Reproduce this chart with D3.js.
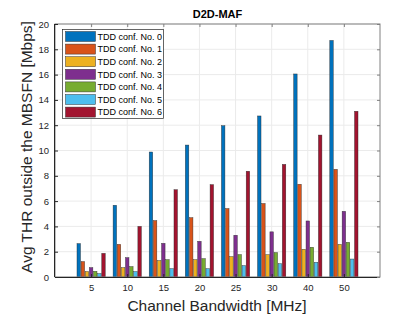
<!DOCTYPE html>
<html><head><meta charset="utf-8">
<script src="https://cdn.jsdelivr.net/npm/d3@7"></script>
<style>body{margin:0;background:#fff}svg{display:block;font-family:"Liberation Sans",Arial,sans-serif}</style>
</head><body>
<svg id="c" width="420" height="315"></svg>
<script>
const categories = ["5","10","15","20","25","30","40","50"];
const seriesNames = ["TDD conf. No. 0","TDD conf. No. 1","TDD conf. No. 2","TDD conf. No. 3","TDD conf. No. 4","TDD conf. No. 5","TDD conf. No. 6"];
const conf0 = [2.64, 5.67, 9.88, 10.43, 11.96, 12.73, 16.05, 18.7];
const conf1 = [1.22, 2.58, 4.46, 4.69, 5.41, 5.81, 7.33, 8.51];
const conf2 = [0.43, 0.74, 1.30, 1.37, 1.61, 1.77, 2.19, 2.58];
const conf3 = [0.74, 1.53, 2.66, 2.82, 3.30, 3.57, 4.43, 5.19];
const conf4 = [0.45, 0.82, 1.37, 1.45, 1.77, 1.93, 2.35, 2.74];
const conf5 = [0.27, 0.43, 0.66, 0.66, 0.90, 1.05, 1.16, 1.42];
const conf6 = [1.87, 4.00, 6.90, 7.30, 8.36, 8.90, 11.22, 13.1];
const yTicks = [0,2,4,6,8,10,12,14,16,18,20];
const colors = ["#0072BD","#D95319","#EDB120","#7E2F8E","#77AC30","#4DBEEE","#A2142F"];
const series = [conf0,conf1,conf2,conf3,conf4,conf5,conf6];

const svg = d3.select("#c");
const L=55, R=380, T=24, B=277;
const x = d3.scaleLinear().domain([0,9]).range([L,R]);
const y = d3.scaleLinear().domain([0,20]).range([B,T]);
const axCol = "#262626";

// grid
const g = svg.append("g");
g.selectAll("line.gy").data(yTicks).join("line")
  .attr("x1",L).attr("x2",R).attr("y1",d=>y(d)).attr("y2",d=>y(d))
  .attr("stroke","#ebebeb").attr("stroke-width",1);
g.selectAll("line.gx").data(categories).join("line")
  .attr("y1",T).attr("y2",B).attr("x1",(d,i)=>x(i+1)).attr("x2",(d,i)=>x(i+1))
  .attr("stroke","#ebebeb").attr("stroke-width",1);

// bars
const nS = series.length;
const groupW = 0.8;
const slot = groupW / nS;
series.forEach((vals,s)=>{
  svg.append("g").selectAll("rect").data(vals).join("rect")
    .attr("x",(d,i)=>x(i+1 - groupW/2 + s*slot + slot*0.08))
    .attr("width", x(slot*0.84)-x(0))
    .attr("y",d=>y(d))
    .attr("height",d=>y(0)-y(d))
    .attr("fill",colors[s])
    .attr("stroke","#222").attr("stroke-width",0.5).attr("stroke-opacity",0.8);
});

// axes box
svg.append("rect").attr("x",L).attr("y",T).attr("width",R-L).attr("height",B-T)
  .attr("fill","none").attr("stroke","#808080").attr("stroke-width",1);
svg.append("line").attr("x1",L).attr("x2",R).attr("y1",B+0.5).attr("y2",B+0.5).attr("stroke",axCol);
svg.append("line").attr("x1",L-0.5).attr("x2",L-0.5).attr("y1",T).attr("y2",B).attr("stroke",axCol);

const yAxis = d3.axisLeft(y).tickValues(yTicks).tickSize(-3).tickPadding(6);
const ya = svg.append("g").attr("transform",`translate(${L},0)`).call(yAxis);
ya.select(".domain").remove();
ya.selectAll("text").attr("font-size",9.5).attr("fill",axCol).attr("font-family","Liberation Sans, Arial, sans-serif");
ya.selectAll("line").attr("stroke",axCol);
const yAxisR = d3.axisRight(y).tickValues(yTicks).tickSize(-3).tickFormat("");
const yr = svg.append("g").attr("transform",`translate(${R},0)`).call(yAxisR);
yr.select(".domain").remove(); yr.selectAll("line").attr("stroke","#808080");

const xAxis = d3.axisBottom(x).tickValues(d3.range(1,9)).tickFormat(d=>categories[d-1]).tickSize(-3).tickPadding(7);
const xa = svg.append("g").attr("transform",`translate(0,${B})`).call(xAxis);
xa.select(".domain").remove();
xa.selectAll("text").attr("font-size",9.5).attr("fill",axCol).attr("font-family","Liberation Sans, Arial, sans-serif");
xa.selectAll("line").attr("stroke",axCol);
const xAxisT = d3.axisTop(x).tickValues(d3.range(1,9)).tickSize(-3).tickFormat("");
const xt = svg.append("g").attr("transform",`translate(0,${T})`).call(xAxisT);
xt.select(".domain").remove(); xt.selectAll("line").attr("stroke","#808080");

// titles
svg.append("text").attr("x",(L+R)/2).attr("y",18).attr("text-anchor","middle")
  .attr("font-size",11).attr("font-weight","bold").attr("fill","#000").text("D2D-MAF");
svg.append("text").attr("x",(L+R)/2 - 0.5).attr("y",310.5).attr("text-anchor","middle")
  .attr("font-size",15.5).attr("fill",axCol).text("Channel Bandwidth [MHz]");
svg.append("text").attr("transform",`translate(32,147) rotate(-90)`).attr("text-anchor","middle")
  .attr("font-size",15.5).attr("fill",axCol).text("Avg THR outside the MBSFN [Mbps]");

// legend
const lg = svg.append("g");
lg.append("rect").attr("x",62.5).attr("y",29.5).attr("width",101).attr("height",89)
  .attr("fill","#fff").attr("stroke","#262626").attr("stroke-width",0.7);
seriesNames.forEach((n,i)=>{
  const cy = 36.5 + i*12.6;
  lg.append("rect").attr("x",65.5).attr("y",cy-5).attr("width",30).attr("height",10)
    .attr("fill",colors[i]).attr("stroke","#333").attr("stroke-width",0.5);
  lg.append("text").attr("x",97.5).attr("y",cy+3.3).attr("font-size",9).attr("fill","#000").text(n);
});
</script>
</body></html>
